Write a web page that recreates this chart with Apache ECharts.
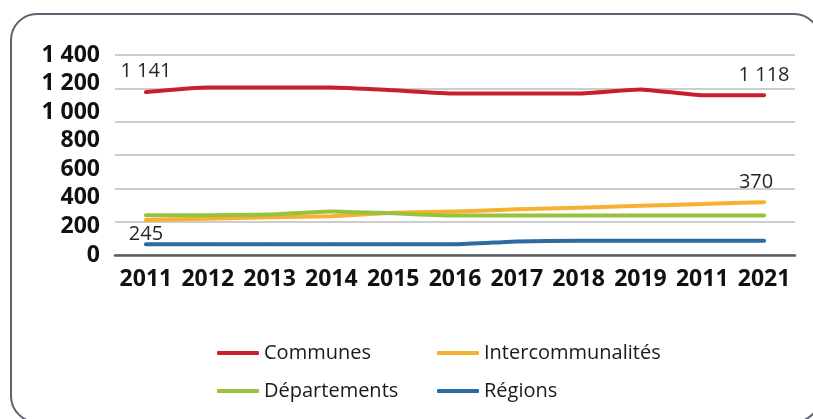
<!DOCTYPE html>
<html>
<head>
<meta charset="utf-8">
<script src="https://cdn.jsdelivr.net/npm/echarts@6/dist/echarts.min.js"></script>
<style>
  html, body { margin: 0; padding: 0; background: #ffffff; }
  #chart { width: 813px; height: 419px; }
</style>
</head>
<body>
<div id="chart"></div>
<script>
// Years shown along the horizontal axis
const years = ['2011', '2012', '2013', '2014', '2015', '2016', '2017', '2018', '2019', '2011', '2021'];

// Series values
const communes = [1141, 1172, 1172, 1172, 1153, 1131, 1131, 1131, 1159, 1118, 1118];
const intercommunalites = [245, 254, 264, 272, 296, 304, 320, 331, 344, 357, 370];
const departements = [278, 278, 283, 305, 292, 276, 276, 276, 276, 276, 276];
const regions = [75, 75, 75, 75, 75, 75, 95, 100, 100, 100, 100];

// Vertical axis tick labels (0 to 1 400, step 200)
const yTickLabels = ['0', '200', '400', '600', '800', '1 000', '1 200', '1 400'];

const FONT = '"Open Sans", "Noto Sans", sans-serif';

// Attach a value label to selected points of a series
function withLabels(values, labelled) {
  return values.map((v, i) => {
    const cfg = labelled[i];
    if (!cfg) return v;
    return {
      value: v,
      label: Object.assign({
        show: true,
        fontFamily: FONT,
        fontSize: 20,
        color: '#262626',
        formatter: (p) => String(p.value).replace(/\B(?=(\d{3})+(?!\d))/g, ' ')
      }, cfg)
    };
  });
}

function lineSeries(name, color, data) {
  return {
    name: name,
    type: 'line',
    yAxisIndex: 0,
    data: data,
    smooth: 0.15,
    symbol: 'circle',
    symbolSize: 1,
    showSymbol: true,
    itemStyle: { color: color },
    lineStyle: { color: color, width: 4, cap: 'round', join: 'round' },
    emphasis: { disabled: true },
    animation: false
  };
}

function legendItem(name, left, top) {
  return {
    data: [name],
    left: left,
    top: top,
    padding: 0,
    icon: 'roundRect',
    itemWidth: 42,
    itemHeight: 4,
    selectedMode: false,
    textStyle: { fontFamily: FONT, fontSize: 20, color: '#1a1a1a' }
  };
}

const chart = echarts.init(document.getElementById('chart'), null, { renderer: 'canvas' });

chart.setOption({
  animation: false,
  backgroundColor: '#ffffff',
  graphic: [{
    type: 'rect',
    shape: { x: 11, y: 14, width: 809, height: 408, r: 26 },
    style: { fill: 'none', stroke: '#5b6270', lineWidth: 2 },
    z: -1
  }],
  grid: { left: 115, right: 18, top: 55, bottom: 164 },
  legend: [
    legendItem('Communes', 217, 343),
    legendItem('Intercommunalités', 437, 343),
    legendItem('Départements', 217, 381),
    legendItem('Régions', 437, 381)
  ],
  xAxis: {
    type: 'category',
    data: years,
    boundaryGap: true,
    axisTick: { show: false },
    axisLine: { show: true, lineStyle: { color: '#555c66', width: 2.5 } },
    axisLabel: {
      fontFamily: FONT, fontSize: 23, fontWeight: 'bold', color: '#111111',
      margin: 13, interval: 0
    }
  },
  yAxis: [
    {
      type: 'value',
      min: 0, max: 1400, interval: 200,
      axisLine: { show: false },
      axisTick: { show: false },
      splitLine: { show: false },
      axisLabel: {
        fontFamily: FONT, fontSize: 23, fontWeight: 'bold', color: '#111111',
        margin: 15,
        formatter: (v) => yTickLabels[Math.round(v / 200)]
      }
    },
    {
      // horizontal guide lines (six equal bands)
      type: 'value',
      min: 0, max: 6, interval: 1,
      position: 'right',
      axisLine: { show: false },
      axisTick: { show: false },
      axisLabel: { show: false },
      splitLine: { show: true, lineStyle: { color: '#bdbdbd', width: 1.5 } }
    }
  ],
  series: [
    lineSeries('Communes', '#c8202a',
      withLabels(communes, {
        0: { position: 'top', distance: 10 },
        10: { position: 'top', distance: 9 }
      })),
    lineSeries('Intercommunalités', '#f7b132',
      withLabels(intercommunalites, {
        0: { position: 'bottom', distance: 4 },
        10: { position: 'top', distance: 9, offset: [-8, 0] }
      })),
    lineSeries('Départements', '#98c23c', departements),
    lineSeries('Régions', '#2c6aa0', regions)
  ]
});
</script>
</body>
</html>
